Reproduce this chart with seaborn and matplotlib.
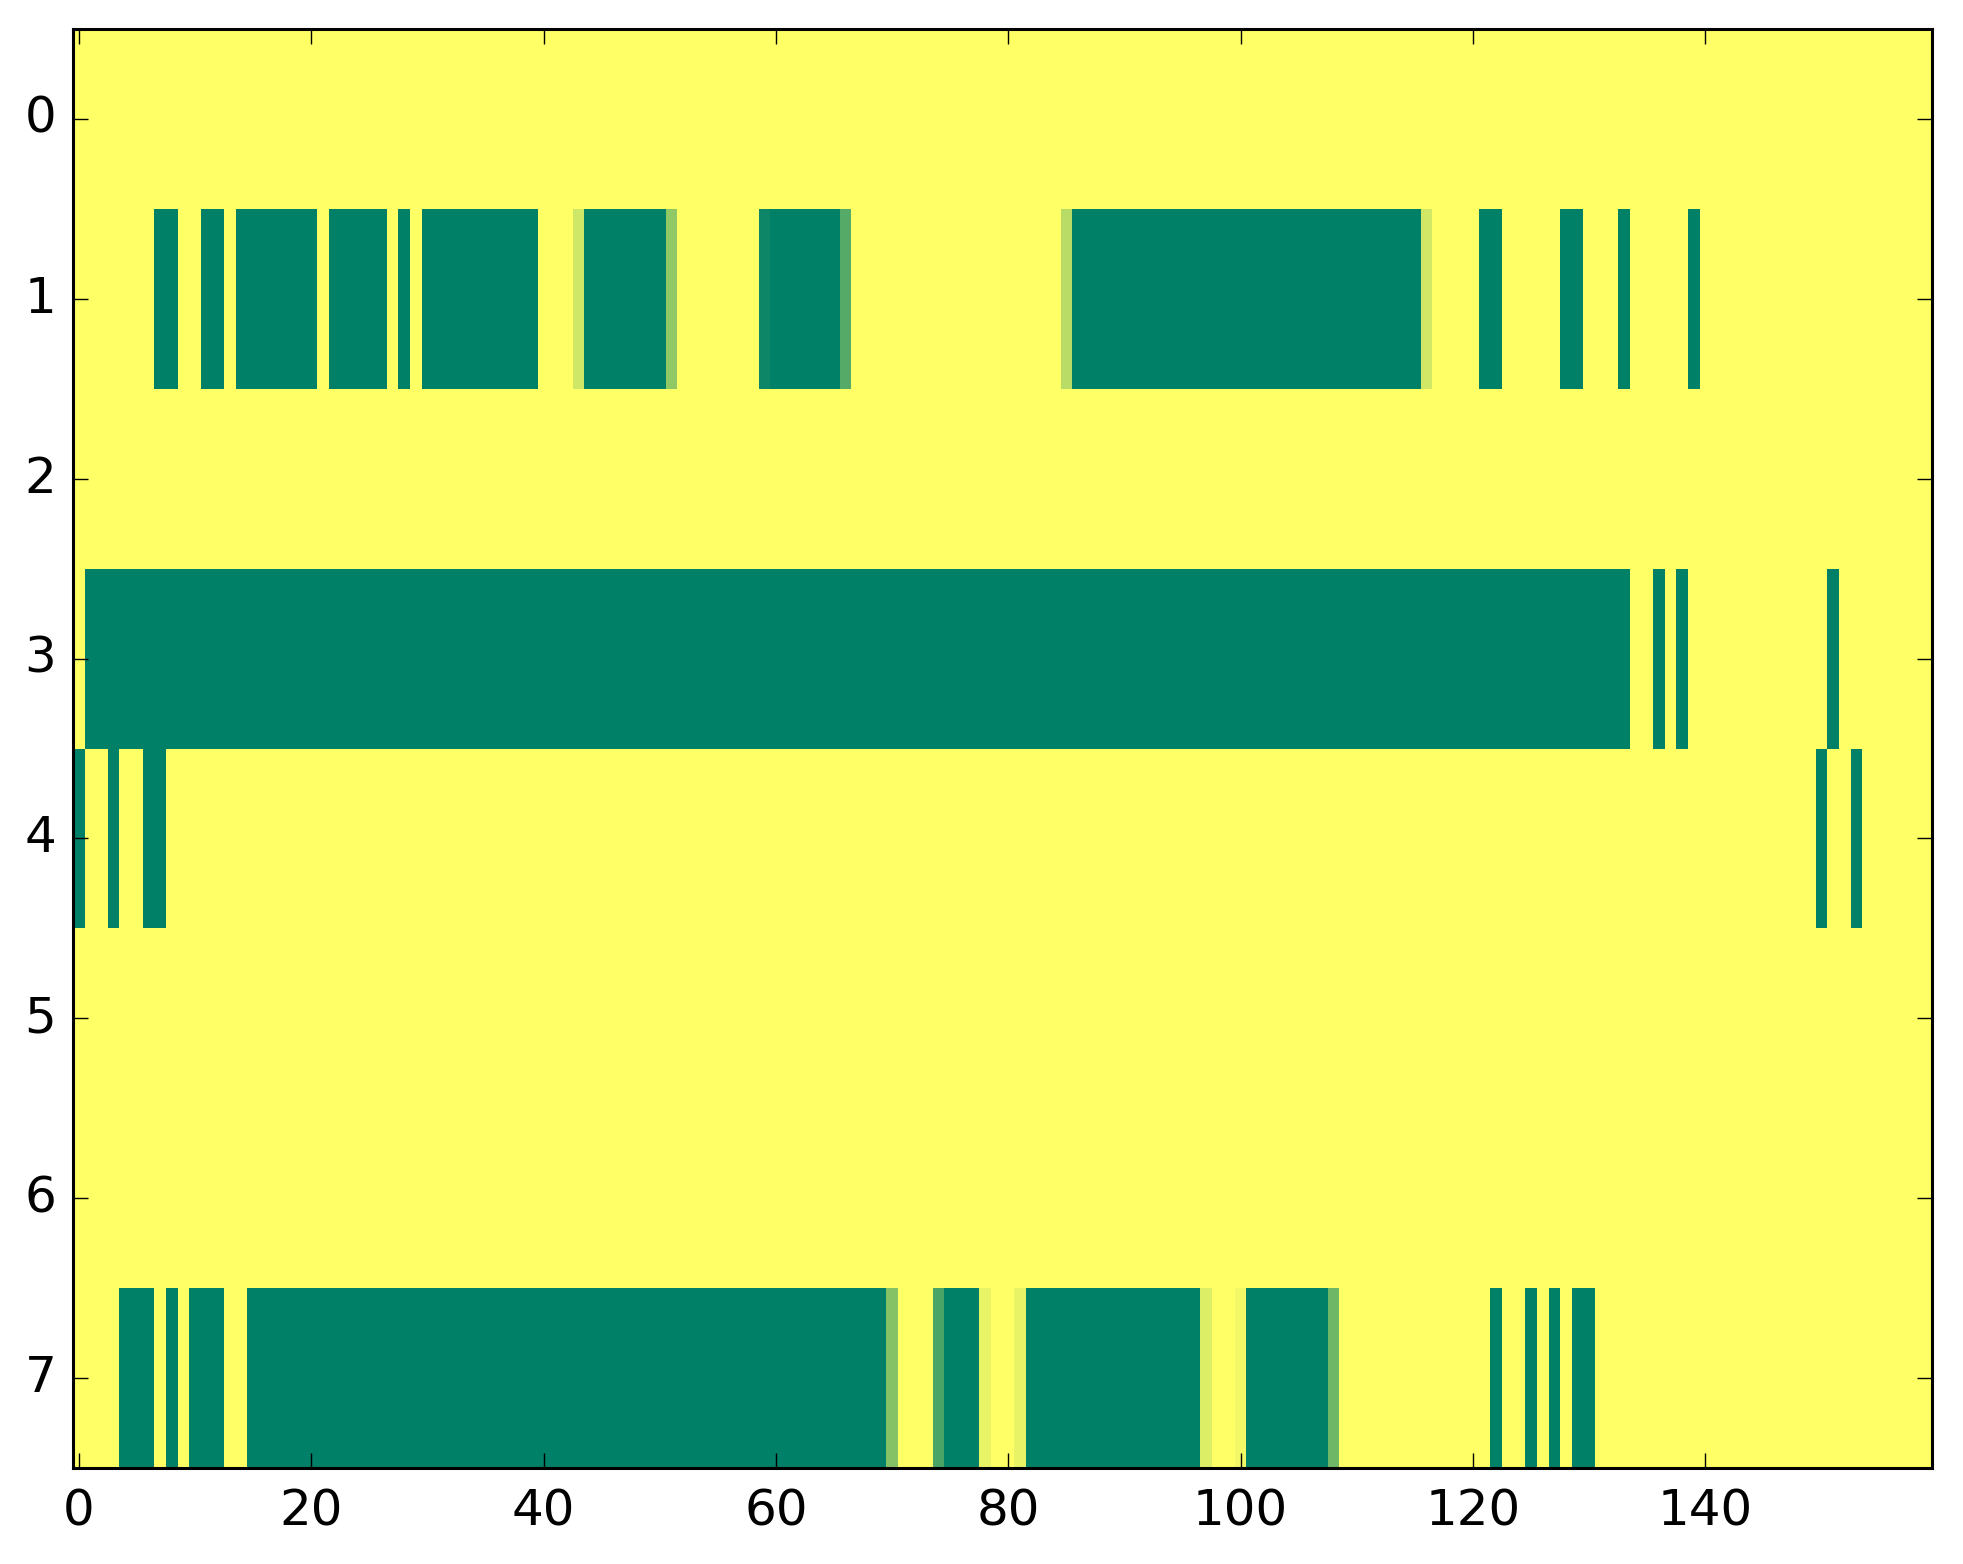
import numpy as np
import pandas as pd
import matplotlib
matplotlib.use("Agg")
import matplotlib.pyplot as plt
import seaborn as sns

# ---- data: 8 rows x 160 columns, background value 1.0 ----
n_rows = 8
n_cols = 160
background = 1.0

# runs of (first_col, last_col, value) for cells differing from background
row0_runs = []
row1_runs = [(7, 8, 0.0), (11, 12, 0.0), (14, 20, 0.0), (22, 26, 0.0), (28, 28, 0.0),
             (30, 39, 0.0), (43, 43, 0.81), (44, 50, 0.0), (51, 51, 0.57),
             (59, 59, 0.05), (60, 65, 0.0), (66, 66, 0.33), (85, 85, 0.72),
             (86, 115, 0.0), (116, 116, 0.82), (121, 122, 0.0), (128, 129, 0.0),
             (133, 133, 0.0), (139, 139, 0.0)]
row2_runs = []
row3_runs = [(1, 133, 0.0), (136, 136, 0.0), (138, 138, 0.0), (151, 151, 0.0)]
row4_runs = [(0, 0, 0.0), (3, 3, 0.0), (6, 7, 0.0), (150, 150, 0.0), (153, 153, 0.0)]
row5_runs = []
row6_runs = []
row7_runs = [(4, 6, 0.0), (8, 8, 0.0), (10, 12, 0.0), (15, 69, 0.0), (70, 70, 0.52),
             (74, 74, 0.29), (75, 77, 0.0), (78, 78, 0.91), (81, 81, 0.91),
             (82, 96, 0.0), (97, 97, 0.86), (100, 100, 0.95), (101, 107, 0.0),
             (108, 108, 0.43), (122, 122, 0.0), (125, 125, 0.0), (127, 127, 0.0),
             (129, 130, 0.0)]

all_runs = [row0_runs, row1_runs, row2_runs, row3_runs,
            row4_runs, row5_runs, row6_runs, row7_runs]

xtick_labels = [0, 20, 40, 60, 80, 100, 120, 140]
ytick_labels = [0, 1, 2, 3, 4, 5, 6, 7]

matrix = np.full((n_rows, n_cols), background)
for r, runs in enumerate(all_runs):
    for a, b, v in runs:
        matrix[r, a:b + 1] = v
df = pd.DataFrame(matrix)

# ---- plot ----
plt.rcParams['font.family'] = ['DejaVu Sans']
fig = plt.figure(figsize=(9.815, 7.82), dpi=200)
ax = fig.add_axes([73 / 1963, 1 - 1468 / 1564, (1932 - 73) / 1963, (1468 - 29) / 1564])
sns.heatmap(df, ax=ax, cmap='summer', vmin=0, vmax=1, cbar=False,
            xticklabels=False, yticklabels=False)

ax.set_xticks(np.array(xtick_labels) + 0.5)
ax.set_xticklabels([str(t) for t in xtick_labels], rotation=0)
ax.set_yticks(np.array(ytick_labels) + 0.5)
ax.set_yticklabels([str(t) for t in ytick_labels], rotation=0, va='center')
ax.set_xlabel('')
ax.set_ylabel('')

for s in ax.spines.values():
    s.set_visible(True)
    s.set_linewidth(1.1)
    s.set_color('black')

ax.tick_params(axis='both', which='major', direction='in', top=True, right=True,
               bottom=True, left=True, length=5.4, width=0.5, color='black',
               labelsize=18, labelcolor='black')
ax.tick_params(axis='x', pad=7)
ax.tick_params(axis='y', pad=6)

fig.savefig('out.png', dpi=200, facecolor='white')
